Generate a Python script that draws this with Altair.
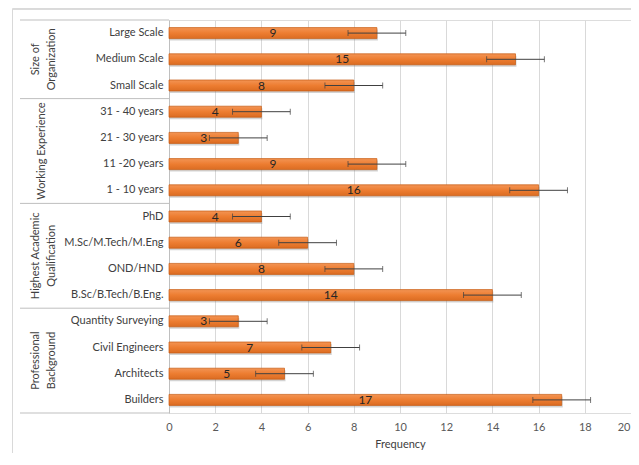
import altair as alt
import pandas as pd

categories = ["Large Scale", "Medium Scale", "Small Scale",
              "31 - 40 years", "21 - 30 years", "11 -20 years", "1 - 10 years",
              "PhD", "M.Sc/M.Tech/M.Eng", "OND/HND", "B.Sc/B.Tech/B.Eng.",
              "Quantity Surveying", "Civil Engineers", "Architects", "Builders"]
values = [9, 15, 8, 4, 3, 9, 16, 4, 6, 8, 14, 3, 7, 5, 17]
err = [1.25] * 15

group_names = [["Size of", "Organization"], ["Working Experience"],
               ["Highest Academic", "Qualification"], ["Professional", "Background"]]
group_sizes = [3, 4, 4, 4]
x_ticks = list(range(0, 21, 2))

FONT = "Lato"
W, H = 462, 393

df = pd.DataFrame({"cat": categories, "v": values, "e": err})
df["lo"] = df["v"] - df["e"]
df["hi"] = df["v"] + df["e"]
df["mid"] = df["v"] / 2

caps = pd.concat([pd.DataFrame({"cat": df["cat"], "x": df["lo"]}),
                  pd.DataFrame({"cat": df["cat"], "x": df["hi"]})])

starts = [sum(group_sizes[:i]) for i in range(len(group_sizes))]
bounds = pd.DataFrame({"b": starts + [sum(group_sizes)]})
gdf = pd.DataFrame({"label": group_names,
                    "c": [s + n / 2 for s, n in zip(starts, group_sizes)],
                    "lines": [len(g) for g in group_names]})

yband = alt.Scale(domain=categories, paddingInner=0.58, paddingOuter=0.29)
xscale = alt.Scale(domain=[0, 20], nice=False)

base = alt.Chart(df)

Y = alt.Y("cat:N", sort=categories, scale=yband,
          axis=alt.Axis(title=None, labelFontSize=11, labelColor="#404040",
                        ticks=False, domainColor="#BFBFBF", labelPadding=6,
                        labelFont=FONT))
X = alt.X("v:Q", scale=xscale,
          axis=alt.Axis(values=x_ticks, grid=True, gridColor="#D9D9D9",
                        domain=False, ticks=False, labelPadding=8, labelFontSize=11,
                        labelColor="#595959", labelFont=FONT, title="Frequency",
                        labelAlign={"condition": {"test": "datum.value == 20", "value": "right"},
                                    "value": "center"},
                        labelOffset={"condition": {"test": "datum.value == 20", "value": -1},
                                     "value": 0},
                        titleFontWeight="normal", titleFontSize=11, titleColor="#404040",
                        titlePadding=6, titleFont=FONT))

shadow = base.mark_bar(color="#808080", opacity=0.35, size=11, yOffset=2, xOffset=1).encode(
    x=X, y=Y)
grad = alt.Gradient(gradient="linear", x1=0, x2=0, y1=0, y2=1,
                    stops=[alt.GradientStop(color="#F39454", offset=0),
                           alt.GradientStop(color="#ED7D31", offset=0.5),
                           alt.GradientStop(color="#DB6C22", offset=1)])
bars = base.mark_bar(color=grad, stroke="#C55A11", strokeWidth=0.7, size=11).encode(
    x=X, y=Y)
ebar = base.mark_rule(color="#404040", strokeWidth=1).encode(
    x="lo:Q", x2="hi:Q", y=alt.Y("cat:N", sort=categories, scale=yband))
ecap = alt.Chart(caps).mark_tick(color="#404040", thickness=1, size=6).encode(
    x=alt.X("x:Q", scale=xscale), y=alt.Y("cat:N", sort=categories, scale=yband))
vtext = base.mark_text(fontSize=12, color="#262626", font=FONT).encode(
    x="mid:Q", y=alt.Y("cat:N", sort=categories, scale=yband), text="v:Q")

main = alt.layer(shadow, bars, ebar, ecap, vtext)

yq = alt.Scale(domain=[0, sum(group_sizes)], reverse=True, nice=False, zero=False)
seps = alt.Chart(bounds).mark_rule(color="#BFBFBF", strokeWidth=1).encode(
    y=alt.Y("b:Q", scale=yq, axis=None), x=alt.value(-149), x2=alt.value(0))
gtext2 = alt.Chart(gdf).transform_filter("datum.lines == 2").mark_text(
    angle=270, fontSize=11, color="#404040", font=FONT, lineHeight=16, baseline="middle").encode(
    y=alt.Y("c:Q", scale=yq, axis=None), x=alt.value(-133), text="label")
gtext1 = alt.Chart(gdf).transform_filter("datum.lines == 1").mark_text(
    angle=270, fontSize=11, color="#404040", font=FONT, baseline="middle").encode(
    y=alt.Y("c:Q", scale=yq, axis=None), x=alt.value(-127), text="label")
border_l = alt.Chart(bounds).mark_rule(color="#D9D9D9").encode(
    x=alt.value(-156.5), y=alt.value(-11), y2=alt.value(H + 40))
border_t = alt.Chart(bounds).mark_rule(color="#D9D9D9").encode(
    y=alt.value(-11), x=alt.value(-156.5), x2=alt.value(W))
groups = alt.layer(border_l, border_t, seps, gtext2, gtext1)

chart = alt.layer(main, groups).resolve_scale(y="independent").properties(
    width=W, height=H, autosize="none",
    padding={"left": 161, "top": 12, "right": 0, "bottom": 40}
).configure_view(stroke=None).configure(font=FONT)

chart.save("out.html", embed_options={"renderer": "svg", "actions": False})
